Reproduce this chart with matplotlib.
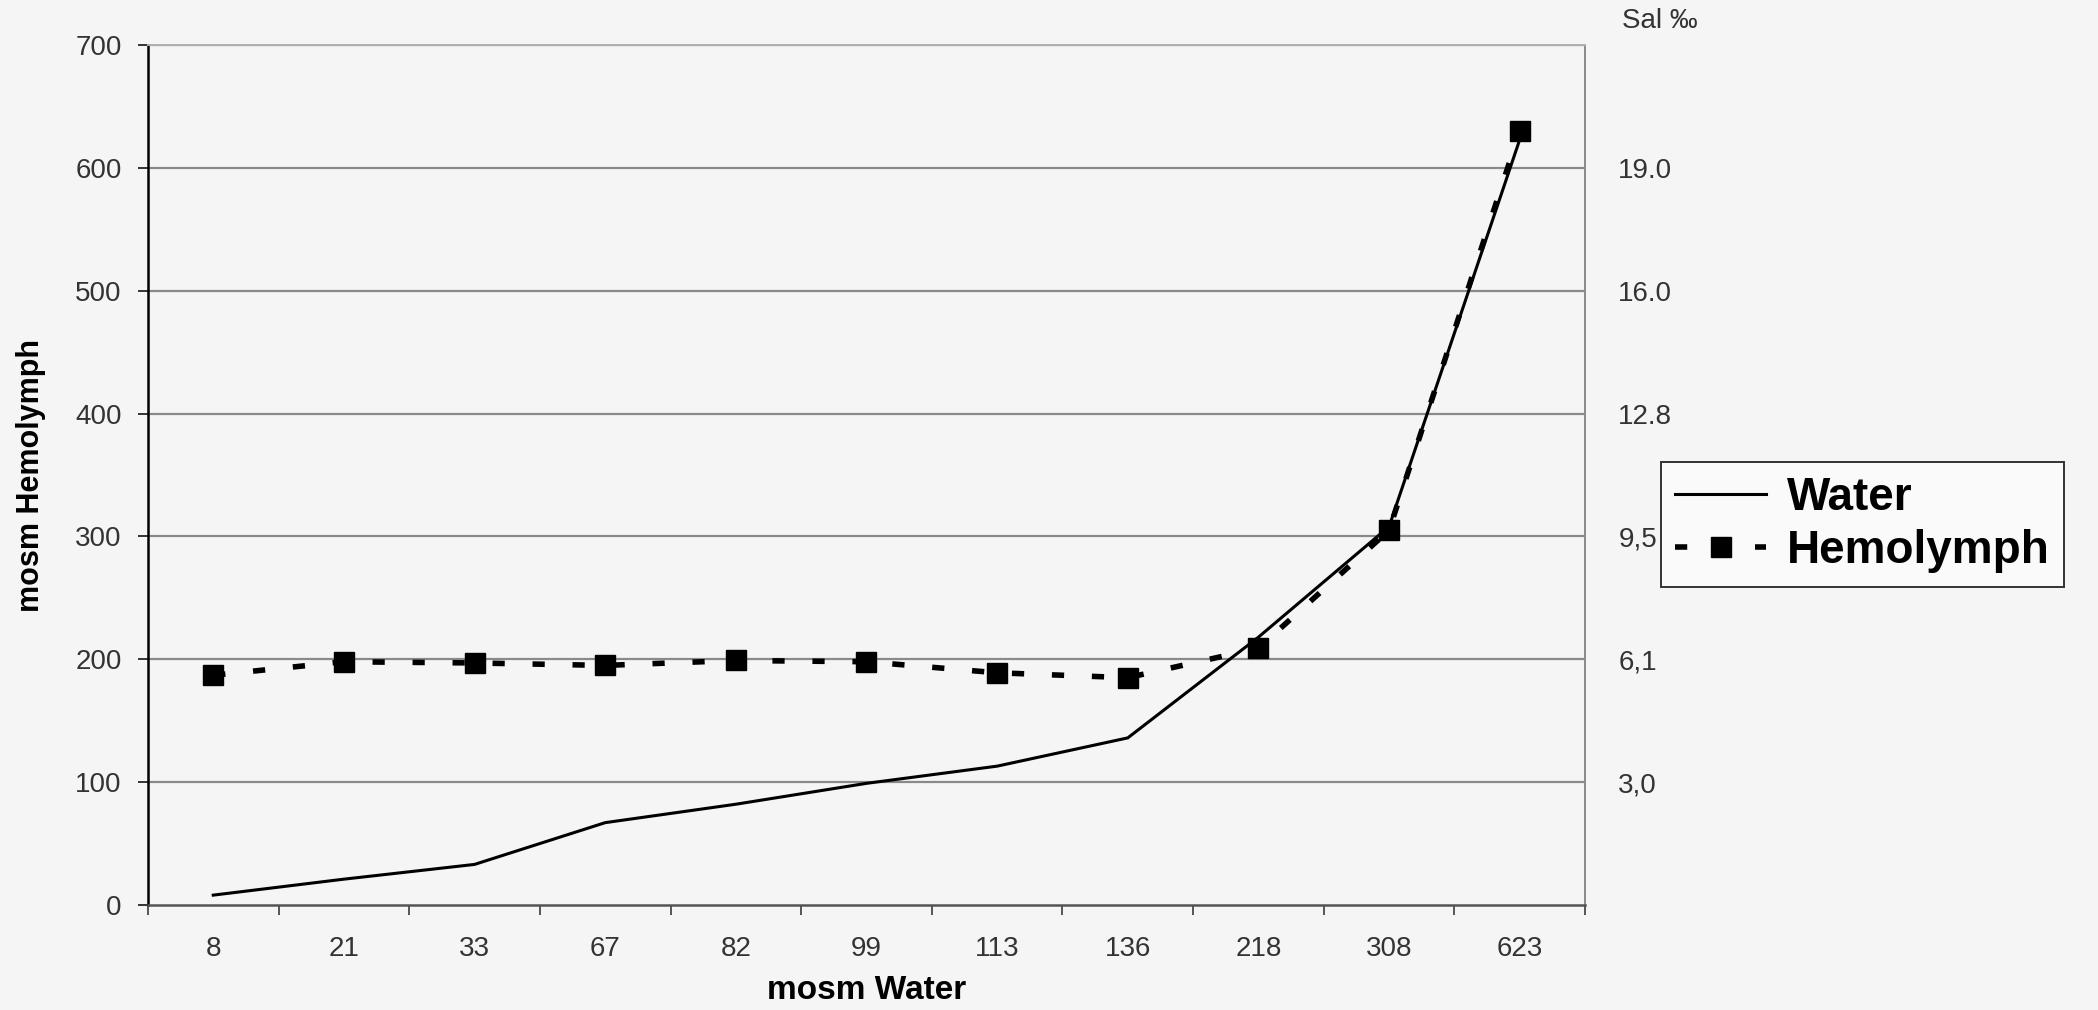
import matplotlib
matplotlib.use("Agg")
import matplotlib.pyplot as plt
import numpy as np

plt.rcParams['font.family'] = ['Liberation Sans', 'DejaVu Sans']

# ---- data ----
categories = ['8', '21', '33', '67', '82', '99', '113', '136', '218', '308', '623']
water = [8, 21, 33, 67, 82, 99, 113, 136, 218, 308, 623]
hemolymph = [187, 198, 197, 195, 199, 198, 189, 185, 209, 305, 630]
left_ticks = [0, 100, 200, 300, 400, 500, 600, 700]
sal_ticks = [100, 200, 300, 400, 500, 600]
sal_labels = ['3,0', '6,1', '9,5', '12.8', '16.0', '19.0']

bg = '#f5f5f5'
fig = plt.figure(figsize=(20.98, 10.10), dpi=100, facecolor=bg)
ax = fig.add_axes([0.0705, 0.104, 0.685, 0.8514])
ax.set_facecolor(bg)

x = np.arange(len(categories))
ax.set_xlim(-0.5, len(categories) - 0.5)
ax.set_ylim(0, 700)

# grid lines
for v in left_ticks[1:]:
    ax.axhline(v, color='#8a8a8a', lw=1.6, zorder=1)

ax.plot(x, water, color='black', lw=2.2, solid_joinstyle='miter', zorder=3, label='Water')
ax.plot(x, hemolymph, color='black', lw=4, dashes=(2.2, 5.0), marker='s',
        markersize=15, markerfacecolor='black', markeredgecolor='black',
        zorder=4, label='Hemolymph')

# axes styling
ax.spines['left'].set_color('black')
ax.spines['left'].set_linewidth(1.8)
ax.spines['bottom'].set_color('#555555')
ax.spines['bottom'].set_linewidth(1.8)
ax.spines['top'].set_color('#b0b0b0')
ax.spines['top'].set_linewidth(1.4)
ax.spines['top'].set_linestyle((0, (3, 1)))
ax.spines['right'].set_color('#8a8a8a')
ax.spines['right'].set_linewidth(1.4)

ax.set_yticks(left_ticks)
ax.set_yticklabels([str(v) for v in left_ticks])
ax.tick_params(axis='y', length=7, width=1.4, pad=12, labelsize=20, colors='#333333')

ax.set_xticks(x)
ax.set_xticklabels(categories)
ax.tick_params(axis='x', which='major', length=0, pad=22, labelsize=20, colors='#333333')
ax.set_xticks(np.arange(len(categories) + 1) - 0.5, minor=True)
ax.tick_params(axis='x', which='minor', length=7, width=1.4, color='#555555')

ax.set_xlabel('mosm Water', fontsize=24, fontweight='bold')
ax.xaxis.set_label_coords(0.5, -0.082)
ax.set_ylabel('mosm Hemolymph', fontsize=22, fontweight='bold')
ax.yaxis.set_label_coords(-0.071, 0.5)

# right salinity axis
ax2 = ax.twinx()
ax2.set_ylim(0, 700)
ax2.set_yticks(sal_ticks)
ax2.set_yticklabels(sal_labels)
ax2.tick_params(axis='y', length=0, pad=24, labelsize=20, colors='#333333')
for s in ax2.spines.values():
    s.set_visible(False)
fig.text(0.791, 0.979, 'Sal \u2030', fontsize=20, color='#333333', ha='center', va='center')

leg = fig.legend(handles=ax.get_lines()[-2:], labels=['Water', 'Hemolymph'],
                 loc='upper left', bbox_to_anchor=(0.7917, 0.5426),
                 frameon=True, fancybox=False, edgecolor='#333333',
                 facecolor='#fafafa', framealpha=1,
                 prop={'size': 33, 'weight': 'bold'}, handlelength=2.0,
                 handletextpad=0.45, borderpad=0.3, labelspacing=0.2,
                 borderaxespad=0)
leg.get_frame().set_linewidth(1.4)

fig.savefig('out.png', dpi=100, facecolor=bg)
